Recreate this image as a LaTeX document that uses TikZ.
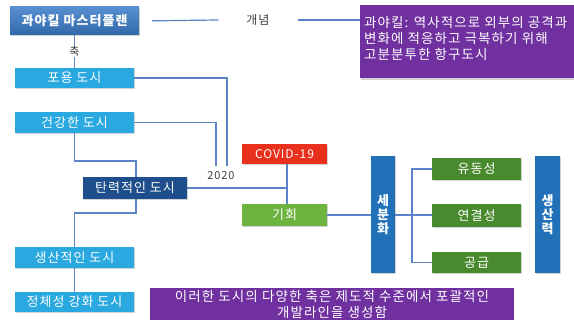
\documentclass[tikz,border=0pt]{standalone}
\usepackage{fontspec}
\setmainfont[LetterSpace=8]{Noto Sans CJK KR}
\usetikzlibrary{shadows}
\definecolor{lnc}{HTML}{5B84C8}
\definecolor{skyb}{HTML}{2AA8E0}
\definecolor{masterb}{HTML}{3A7BC8}
\definecolor{darkb}{HTML}{1F4E8C}
\definecolor{midb}{HTML}{2170B8}
\definecolor{covidr}{HTML}{E8301C}
\definecolor{lgreen}{HTML}{6DB33F}
\definecolor{dgreen}{HTML}{4A8A2E}
\definecolor{purp}{HTML}{7030A0}
\tikzset{
  shad/.style={drop shadow={opacity=0.35,shadow xshift=0.8pt,shadow yshift=-1.5pt}},
  boxbase/.style={shad,inner sep=0pt,text=white,font=\fontsize{13}{15}\selectfont},
  skybox/.style={boxbase,fill=skyb,minimum width=119pt,minimum height=21pt},
  conn/.style={draw=lnc,line width=1.2pt},
}
\begin{document}
\begin{tikzpicture}[x=1pt,y=-1pt]
\useasboundingbox (0,0) rectangle (574,320);
\clip (0,0) rectangle (574,320);
% junction coordinates
\coordinate (j1) at (227,166);
\coordinate (j2) at (216,166);
\coordinate (jr) at (136,161);
\coordinate (jr2) at (136,213);
\coordinate (jc) at (287,188);
\coordinate (bt) at (412,169);
\coordinate (bb) at (412,262.5);
\coordinate (bm) at (412,215);

% nodes
\node[boxbase,top color=masterb!85!white,bottom color=masterb!85!black,minimum width=129pt,minimum height=28pt,font=\fontsize{13}{15}\selectfont\bfseries] (master) at (74.5,21) {과야킬 마스터플랜};
\node[skybox,minimum height=20pt] (poyong) at (74.5,78) {포용 도시};
\node[skybox] (health) at (74.5,122.5) {건강한 도시};
\node[skybox] (prod) at (74.5,257.5) {생산적인 도시};
\node[skybox,minimum height=20pt] (ident) at (74.5,302) {정체성 강화 도시};

\node[inner xsep=28pt,inner ysep=2pt,font=\fontsize{12}{14}\selectfont,text=black!75] (concept) at (258,20) {개념};
\node[shad,fill=purp,minimum width=220pt,minimum height=73pt,anchor=north west] (topbox) at (360,5) {};
\node[anchor=north west,text=white,align=left,inner sep=0pt,font=\fontsize{13.5}{16}\selectfont] (toptext) at (364,16) {과야킬: 역사적으로 외부의 공격과\\변화에 적응하고 극복하기 위해\\고분분투한 항구도시};

\node[font=\fontsize{11}{13}\selectfont,text=black!75,inner sep=1pt] (y2020) at (221,176) {2020};

% connectors
\draw[conn,shorten <=13pt] (master.east) -- (concept.west);
\draw[conn] (concept.east) -- (topbox.west |- concept.east);
\draw[conn] (poyong.east) -| (j1);
\draw[conn] (health.east) -| (j2);
\draw[conn] (health.south) |- (jr) -- (jr2) -| (prod.north);
\draw[conn] (prod.south) -- (ident.north);

\node[boxbase,fill=darkb,minimum width=104pt,minimum height=22pt] (resil) at (135,188) {탄력적인 도시};

\node[boxbase,fill=covidr,minimum width=85pt,minimum height=20pt,font=\fontsize{12}{14}\selectfont] (covid) at (284.5,154) {COVID-19};
\node[boxbase,fill=lgreen,minimum width=85pt,minimum height=22pt] (opp) at (284.5,215) {기회};
\node[boxbase,fill=midb,minimum width=24pt,minimum height=117pt,align=center,font=\fontsize{13}{14}\selectfont\bfseries] (seg) at (383,214.5) {세\\분\\화};
\node[boxbase,fill=midb,minimum width=25pt,minimum height=117pt,align=center,font=\fontsize{13}{14}\selectfont\bfseries] (prodv) at (547.5,214.5) {생\\산\\력};
\node[boxbase,fill=dgreen,minimum width=89pt,minimum height=22pt] (mob) at (476.5,169) {유동성};
\node[boxbase,fill=dgreen,minimum width=89pt,minimum height=23pt] (con) at (476.5,215.5) {연결성};
\node[boxbase,fill=dgreen,minimum width=89pt,minimum height=21pt] (sup) at (476.5,262.5) {공급};

\node[fill=purp,minimum width=364pt,minimum height=40pt,anchor=north west] (botbox) at (150,288) {};
\node[text=white,align=center,inner sep=0pt,font=\fontsize{13.5}{16}\selectfont] (bottext) at (332,304) {이러한 도시의 다양한 축은 제도적 수준에서 포괄적인\\개발라인을 생성함};

\draw[conn] (master.south -| poyong.north) -- node[fill=white,inner sep=1pt,text=black!80,font=\fontsize{11}{13}\selectfont] (axis) {축} (poyong.north);
\draw[conn] (resil.east) -- (jc);
\draw[conn] (covid.south -| jc) -- (opp.north -| jc);
\draw[conn] (opp.east) -- (seg.west |- opp.east);
\draw[conn] (seg.east |- bm) -- (bm);
\draw[conn] (mob.west) -- (bt) -- (bb) -- (sup.west);
\draw[conn] (bm) -- (con.west |- bm);
\end{tikzpicture}
\end{document}
